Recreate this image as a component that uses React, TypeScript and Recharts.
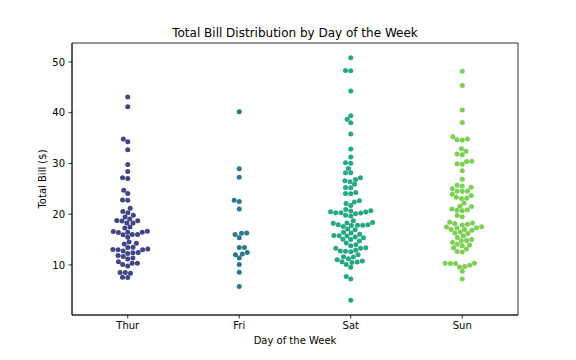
import React from 'react';
import { ScatterChart, Scatter, XAxis, YAxis, ReferenceArea } from 'recharts';

const days = ['Thur', 'Fri', 'Sat', 'Sun'];
const dayColors = ['#414487', '#2a788e', '#22a884', '#7ad151'];
const yTicks = [10, 20, 30, 40, 50];
const xTicks = [0, 1, 2, 3];

const thurBills = [
  27.2, 22.76, 17.29, 19.44, 16.66, 10.07, 32.68, 15.98, 34.83, 13.03, 18.28, 24.71, 21.16,
  10.65, 12.43, 24.08, 11.69, 13.42, 14.26, 15.95, 12.48, 29.8, 8.52, 14.52, 11.38, 22.82,
  19.08, 20.27, 11.17, 12.26, 18.26, 8.51, 10.33, 14.15, 16.0, 13.16, 17.47, 34.3, 41.19,
  27.05, 16.43, 8.35, 18.64, 11.87, 9.78, 7.51, 19.81, 28.44, 15.48, 16.58, 7.56, 10.34,
  43.11, 13.0, 13.51, 18.71, 12.74, 13.0, 16.4, 20.53, 16.47, 18.78,
];
const friBills = [
  28.97, 22.49, 5.75, 16.32, 22.75, 40.17, 27.28, 12.03, 21.01, 12.46, 11.35, 15.38,
  12.16, 13.42, 8.58, 15.98, 13.42, 16.27, 10.09,
];
const satBills = [
  20.65, 17.92, 20.29, 15.77, 39.42, 19.82, 17.81, 13.37, 12.69, 21.7, 19.65, 9.55, 18.35,
  15.06, 20.69, 17.78, 24.06, 16.31, 16.93, 18.69, 31.27, 16.04, 38.01, 26.41, 11.24, 48.27,
  20.29, 13.81, 11.02, 18.29, 17.59, 20.08, 16.45, 3.07, 20.23, 15.01, 12.02, 17.07, 26.86,
  25.28, 14.73, 10.51, 17.92, 44.3, 22.42, 20.92, 15.36, 20.49, 25.21, 18.24, 14.31, 14.0,
  7.25, 10.59, 10.63, 50.81, 15.81, 26.59, 38.73, 24.27, 12.76, 30.06, 25.89, 48.33, 13.27,
  28.17, 12.9, 28.15, 11.59, 7.74, 30.14, 20.45, 13.28, 22.12, 24.01, 15.69, 11.61, 10.77,
  15.53, 10.07, 12.6, 32.83, 35.83, 29.03, 27.18, 22.67, 17.82,
];
const sunBills = [
  16.99, 10.34, 21.01, 23.68, 24.59, 25.29, 8.77, 26.88, 15.04, 14.78, 10.27, 35.26, 15.42,
  18.43, 14.83, 21.58, 10.33, 16.29, 16.97, 17.46, 13.94, 9.68, 30.4, 18.29, 22.23, 32.4,
  28.55, 18.04, 12.54, 10.29, 34.81, 9.94, 25.56, 19.49, 38.07, 23.95, 25.71, 17.31, 29.93,
  14.07, 13.13, 17.26, 24.55, 19.77, 29.85, 48.17, 25.0, 13.39, 16.49, 21.5, 12.66, 16.21,
  13.81, 17.51, 24.52, 20.76, 31.71, 7.25, 31.85, 16.82, 32.9, 17.89, 14.48, 9.6, 34.63,
  34.65, 23.33, 45.35, 23.17, 40.55, 20.69, 20.9, 30.46, 18.15, 23.1, 15.69,
];
const billsByDay = [thurBills, friBills, satBills, sunBills];

const Y_MIN = 0.14;
const Y_MAX = 53.74;
const PLOT_LEFT = 72;
const PLOT_TOP = 43;
const PLOT_W = 446;
const PLOT_H = 272;
const DOT = 5; // marker diameter in px

// Beeswarm layout (same procedure as seaborn's swarmplot), computed in pixel space
function swarm(values: number[], center: number) {
  const pxY = PLOT_H / (Y_MAX - Y_MIN);
  const pxX = PLOT_W / 4;
  const sorted = [...values].sort((a, b) => a - b);
  const placed: { x: number; y: number }[] = [];
  for (const v of sorted) {
    const y = v * pxY;
    const neighbors: { x: number; y: number }[] = [];
    for (let j = placed.length - 1; j >= 0; j--) {
      if (y - placed[j].y < DOT) neighbors.unshift(placed[j]);
      else break;
    }
    const cands: { x: number; y: number }[] = [{ x: 0, y }];
    let leftFirst = true;
    for (const n of neighbors) {
      const dy = y - n.y;
      const dx = Math.sqrt(Math.max(DOT * DOT - dy * dy, 0)) * 1.05;
      const cl = { x: n.x - dx, y };
      const cr = { x: n.x + dx, y };
      if (leftFirst) cands.push(cl, cr);
      else cands.push(cr, cl);
      leftFirst = !leftFirst;
    }
    const ordered = cands
      .map((c, i) => ({ c, i }))
      .sort((a, b) => Math.abs(a.c.x) - Math.abs(b.c.x) || a.i - b.i)
      .map((o) => o.c);
    let chosen = ordered[0];
    if (neighbors.length) {
      for (const c of ordered) {
        if (neighbors.every((n) => (n.x - c.x) ** 2 + (n.y - c.y) ** 2 >= DOT * DOT)) {
          chosen = c;
          break;
        }
      }
    }
    placed.push(chosen);
  }
  return placed.map((p, i) => ({ x: center + p.x / pxX, y: sorted[i] }));
}

const FONT = 'DejaVu Sans, sans-serif';

export default function App() {
  return (
    <div style={{ position: 'absolute', left: 0, top: 0, width: 576, height: 360, background: '#fff' }}>
      <ScatterChart
        width={576}
        height={360}
        margin={{ top: PLOT_TOP, right: 576 - PLOT_LEFT - PLOT_W, bottom: 0, left: 0 }}
      >
        <XAxis
          type="number"
          dataKey="x"
          domain={[-0.5, 3.5]}
          ticks={xTicks}
          tickFormatter={(i: number) => days[i]}
          height={360 - PLOT_TOP - PLOT_H}
          allowDataOverflow
          stroke="#000"
          tickSize={3.5}
          tickMargin={3.5}
          tick={{ fill: '#000', fontSize: 10, fontFamily: FONT }}
          axisLine={{ stroke: '#000', strokeWidth: 0.8 }}
          tickLine={{ stroke: '#000', strokeWidth: 0.8 }}
        />
        <YAxis
          type="number"
          dataKey="y"
          domain={[Y_MIN, Y_MAX]}
          ticks={yTicks}
          width={PLOT_LEFT}
          allowDataOverflow
          stroke="#000"
          tickSize={3.5}
          tickMargin={3.5}
          tick={{ fill: '#000', fontSize: 10, fontFamily: FONT }}
          axisLine={{ stroke: '#000', strokeWidth: 0.8 }}
          tickLine={{ stroke: '#000', strokeWidth: 0.8 }}
        />
        <ReferenceArea
          x1={-0.5}
          x2={3.5}
          y1={Y_MIN}
          y2={Y_MAX}
          fill="none"
          fillOpacity={0}
          stroke="#000"
          strokeWidth={0.8}
        />
        {billsByDay.map((vals, i) => (
          <Scatter
            key={days[i]}
            name={days[i]}
            data={swarm(vals, i)}
            fill={dayColors[i]}
            isAnimationActive={false}
            shape={(p: any) => <circle cx={p.cx} cy={p.cy} r={DOT / 2} fill={dayColors[i]} />}
          />
        ))}
        <text x={PLOT_LEFT + PLOT_W / 2} y={37.3} textAnchor="middle" fontSize={12} fontFamily={FONT} fill="#000">
          Total Bill Distribution by Day of the Week
        </text>
        <text x={PLOT_LEFT + PLOT_W / 2} y={344.3} textAnchor="middle" fontSize={10} fontFamily={FONT} fill="#000">
          Day of the Week
        </text>
        <text
          x={45.7}
          y={PLOT_TOP + PLOT_H / 2}
          textAnchor="middle"
          fontSize={10}
          fontFamily={FONT}
          fill="#000"
          transform={`rotate(-90, 45.7, ${PLOT_TOP + PLOT_H / 2})`}
        >
          Total Bill ($)
        </text>
      </ScatterChart>
    </div>
  );
}
